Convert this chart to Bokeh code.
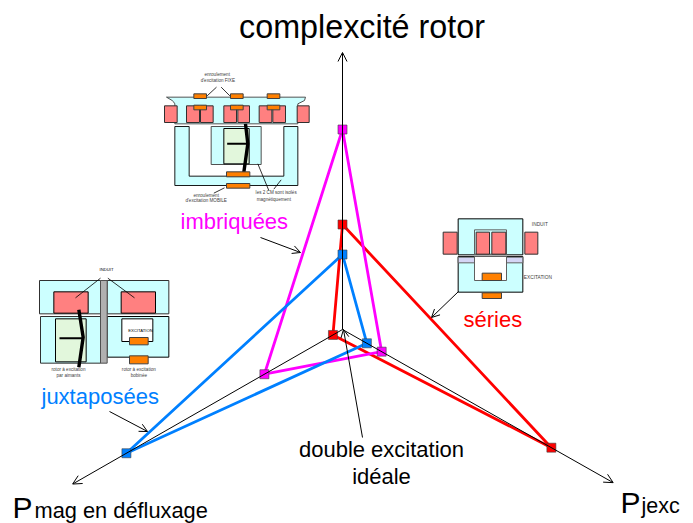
import math
from bokeh.plotting import figure
from bokeh.models import Arrow, OpenHead, Range1d
from bokeh.core.properties import value
from bokeh.embed import file_html
from bokeh.resources import INLINE

# radar data: three axes, distance from the origin along each
axis_names = ["complexcité rotor", "Pmag en défluxage", "Pjexc"]
axis_angles = [90.0, 209.8, -29.5]
axis_lengths = [277, 311, 311]
imbriquees = [200, 90, 45]
series_vals = [105, 11, 240]
juxtaposees = [75, 249, 28]
MAGENTA, RED, BLUE = "#ff00ff", "#ff0000", "#0080ff"
CYAN, PINK, ORANGE, GREEN, LAV = "#ccffff", "#ff8080", "#ff8000", "#e2f7dc", "#d5d5f5"

W, H = 693, 523
FONT = "Liberation Sans"
p = figure(width=W, height=H, output_backend="svg", toolbar_location=None,
           x_range=Range1d(0, W), y_range=Range1d(H, 0),
           min_border=0, outline_line_color=None)
p.axis.visible = False
p.grid.visible = False
p.background_fill_color = "white"
p.border_fill_color = "white"

CX, CY = 342, 329
def pt(ax, r):
    a = math.radians(axis_angles[ax])
    return CX + r * math.cos(a), CY - r * math.sin(a)

def arrow(x0, y0, x1, y1, size=9):
    p.add_layout(Arrow(end=OpenHead(size=size, line_width=1, line_color="black"),
                       x_start=x0, y_start=y0, x_end=x1, y_end=y1,
                       line_width=1, line_color="black"))

def txt(x, y, s, size, color="black", align="left"):
    p.text([x], [y - 0.36 * size], text=[s], text_font=value(FONT), text_font_size=f"{size}px",
           text_color=color, text_align=align, text_baseline="alphabetic")

# axes
for i in range(3):
    x, y = pt(i, axis_lengths[i])
    arrow(CX, CY, x, y)

# polygons
for vals, col in [(series_vals, RED), (imbriquees, MAGENTA), (juxtaposees, BLUE)]:
    pts = [pt(i, vals[i]) for i in range(3)]
    xs = [q[0] for q in pts] + [pts[0][0]]
    ys = [q[1] for q in pts] + [pts[0][1]]
    p.line(xs, ys, line_color=col, line_width=2.8)
for vals, col in [(series_vals, RED), (imbriquees, MAGENTA), (juxtaposees, BLUE)]:
    pts = [pt(i, vals[i]) for i in range(3)]
    p.scatter([q[0] for q in pts], [q[1] for q in pts], marker="square", size=9,
              fill_color=col, fill_alpha=1.0, line_color="#404040", line_width=0.6)

# labels
txt(361.5, 38, "complexcité rotor", 32.3, align="center")
txt(12, 518, "P", 30)
txt(34, 518, "mag en défluxage", 21.8)
txt(620, 513, "P", 30)
txt(641, 513, "jexc", 21.5)
txt(180, 229, "imbriquées", 22, MAGENTA)
txt(463, 327, "séries", 22, RED)
txt(41, 404, "juxtaposées", 22, BLUE)
txt(381, 457, "double excitation", 22, align="center")
txt(381, 484, "idéale", 22, align="center")

# callouts
arrow(260, 237, 300, 252, 8)
arrow(458, 291, 431, 317, 8)
arrow(109, 411, 147, 431, 8)
arrow(362, 437, 343, 329, 8)

# helper for inset sketches, written in crop coordinates (3x)
def inset(ox, oy):
    def r(x0, x1, y0, y1, fill, lc="black", lw=1.0):
        p.quad(left=[ox + x0 / 3], right=[ox + x1 / 3], top=[oy + y0 / 3], bottom=[oy + y1 / 3],
               fill_color=fill, line_color=lc, line_width=lw)
    def l(xs, ys, w=0.7, c="black"):
        p.line([ox + v / 3 for v in xs], [oy + v / 3 for v in ys], line_color=c, line_width=w)
    def poly(xs, ys, fill, lc="#404040", lw=0.9):
        p.patch([ox + v / 3 for v in xs], [oy + v / 3 for v in ys], fill_color=fill,
                line_color=lc, line_width=lw)
    def t(x, y, s, size=4.6, c="#404040"):
        p.text([ox + x / 3], [oy + y / 3], text=[s], text_font=value(FONT),
               text_font_size=f"{size}px", text_color=c, text_align="center",
               text_baseline="middle")
    return r, l, poly, t

# inset: imbriquées
r, l, poly, t = inset(150, 60)
poly([48, 465, 462, 442, 442, 73, 73, 70, 65],
     [110, 110, 120, 130, 190, 190, 130, 125, 120],
     CYAN)
for x0, x1 in [(42, 80), (108, 147), (150, 188), (220, 258), (262, 297), (326, 364), (367, 405), (440, 476)]:
    r(x0, x1, 136, 186, PINK, "#303030")
for x0, x1 in [(130, 168), (240, 278), (350, 388)]:
    r(x0, x1, 100, 114, ORANGE, "#404040")
    r(x0, x1, 134, 148, ORANGE, "#404040")
poly([73, 116, 116, 400, 400, 442, 442, 73], [198, 198, 347, 347, 198, 198, 375, 375], CYAN, "black")
r(182, 332, 198, 312, CYAN, "#505050")
r(220, 296, 204, 310, GREEN, "black")
l([285, 292, 280], [190, 250, 335], 3.4)
l([230, 290], [250, 250], 2.0)
r(228, 298, 334, 349, ORANGE, "#404040")
r(228, 298, 369, 383, ORANGE, "#404040")
t(200, 43, "enroulement")
t(202, 60, "d'excitation FIXE")
t(167, 405, "enroulement")
t(167, 421, "d'excitation MOBILE")
t(377, 396, "les 2 CM sont isolés")
t(370, 418, "magnétiquement")
l([198, 170], [80, 106], 0.8)
l([212, 238], [80, 106], 0.8)
l([222, 190], [382, 398], 0.8)
l([322, 355], [310, 390], 0.8)
l([370, 392], [386, 358], 0.8)

# inset: juxtaposées
r, l, poly, t = inset(20, 260)
r(57, 240, 60, 160, CYAN, "#303030")
r(260, 445, 60, 160, CYAN, "#303030")
r(100, 203, 94, 158, PINK)
r(302, 405, 94, 158, PINK)
r(60, 240, 168, 308, CYAN, "#303030")
r(105, 197, 175, 304, GREEN, "black")
r(260, 445, 168, 290, CYAN, "black")
r(304, 397, 175, 243, "white", "black")
r(327, 383, 231, 253, ORANGE, "#404040")
r(327, 383, 286, 310, ORANGE, "#404040")
r(240, 260, 60, 308, "#b0b0b0", "#505050")
l([175, 188, 175], [148, 230, 320], 3.4)
l([117, 188], [233, 233], 2.0)
l([240, 165], [53, 112], 0.8)
l([262, 342], [53, 112], 0.8)
t(258, 28, "INDUIT", 4.2, "black")
t(360, 211, "EXCITATION", 4.2, "black")
t(144, 327, "rotor à excitation")
t(144, 346, "par aimants")
t(355, 327, "rotor à excitation")
t(355, 346, "bobinée")

# inset: séries
r, l, poly, t = inset(430, 205)
r(83, 277, 40, 148, CYAN, "black")
r(38, 80, 80, 146, PINK, "#303030")
r(283, 322, 80, 146, PINK, "#303030")
r(132, 228, 73, 146, CYAN, "#606060")
r(137, 177, 80, 146, PINK, "#303030")
r(184, 226, 80, 146, PINK, "#303030")
r(83, 277, 153, 260, CYAN, "black")
r(83, 132, 155, 172, LAV, "#606060")
r(228, 277, 155, 172, LAV, "#606060")
r(132, 228, 153, 225, "white", "#606060")
r(155, 213, 203, 225, ORANGE, "#404040")
r(155, 213, 262, 279, ORANGE, "#404040")
t(328, 57, "INDUIT", 4.8)
t(322, 215, "EXCITATION", 4.8)

open("out.html", "w").write(file_html(p, INLINE))
